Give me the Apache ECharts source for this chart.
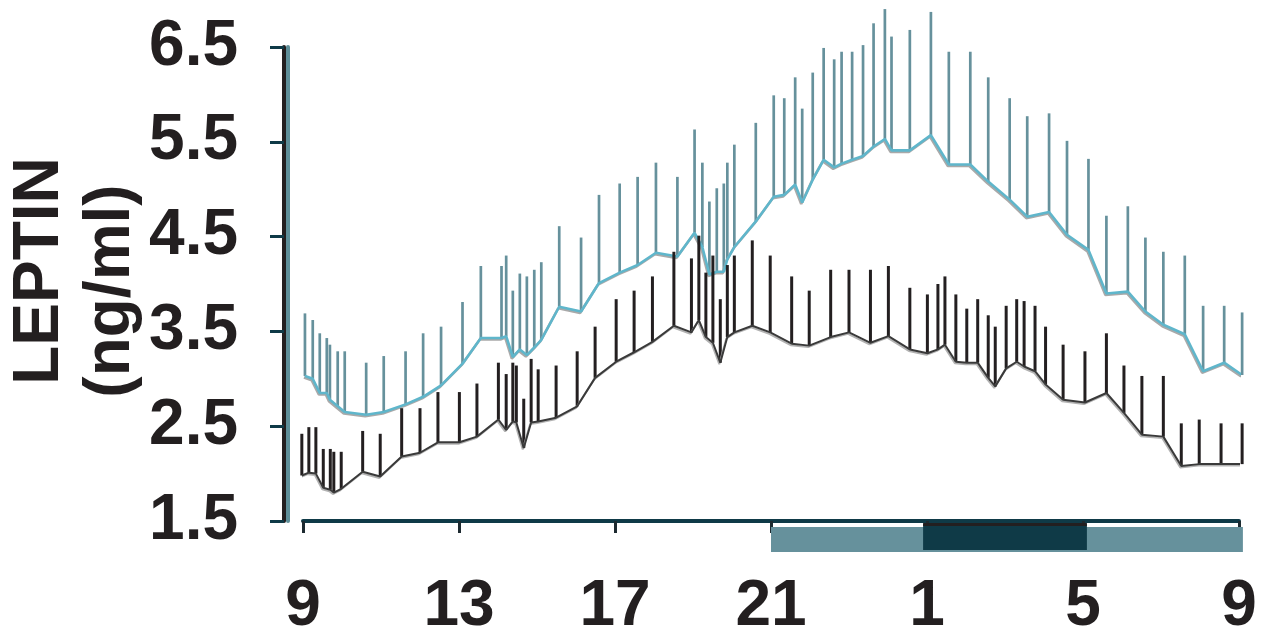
<!DOCTYPE html>
<html><head><meta charset="utf-8">
<script src="https://cdn.jsdelivr.net/npm/echarts@6/dist/echarts.min.js"></script>
<style>html,body{margin:0;padding:0;background:#fff}#c{width:1263px;height:641px}</style>
</head><body><div id="c"></div>
<script>
// ---- data (hours since 0:00 of day 1; values ng/ml) ----
const xTickLabels = ['9', '13', '17', '21', '1', '5', '9'];
const yTickLabels = ['1.5', '2.5', '3.5', '4.5', '5.5', '6.5'];

const tealX = [9.05,9.25,9.43,9.61,9.69,9.89,10.07,10.62,11.07,11.63,12.08,12.54,13.09,13.56,14.09,14.21,14.38,14.56,14.74,14.93,15.11,15.57,16.13,16.59,17.12,17.58,18.05,18.60,19.04,19.24,19.42,19.61,19.79,19.88,20.06,20.61,21.07,21.34,21.62,21.80,22.07,22.35,22.62,22.81,23.08,23.36,23.63,23.92,24.09,24.56,25.10,25.56,26.11,26.57,27.12,27.57,28.13,28.59,29.14,29.60,30.15,30.60,31.06,31.61,32.08,32.62,33.08];
const tealMean = [3.03,3.00,2.85,2.85,2.78,2.71,2.65,2.62,2.65,2.73,2.81,2.93,3.16,3.43,3.43,3.45,3.23,3.31,3.25,3.33,3.41,3.76,3.71,4.01,4.12,4.20,4.33,4.29,4.54,4.39,4.10,4.13,4.13,4.26,4.39,4.66,4.92,4.94,5.05,4.86,5.10,5.31,5.23,5.27,5.31,5.35,5.45,5.53,5.41,5.41,5.57,5.26,5.26,5.08,4.89,4.71,4.76,4.52,4.36,3.90,3.92,3.71,3.57,3.47,3.08,3.17,3.04];
const tealUpper = [3.69,3.62,3.48,3.43,3.36,3.29,3.29,3.17,3.24,3.29,3.48,3.55,3.81,4.19,4.19,4.30,3.93,4.11,4.08,4.15,4.23,4.61,4.49,4.94,5.06,5.13,5.28,5.13,5.63,5.28,4.87,5.01,5.06,5.28,5.47,5.70,5.99,5.96,6.18,5.85,6.23,6.49,6.37,6.45,6.45,6.52,6.75,6.90,6.61,6.68,6.87,6.45,6.45,6.18,5.96,5.77,5.80,5.51,5.32,4.72,4.82,4.49,4.34,4.30,3.77,3.77,3.70];

const blackX = [8.97,9.15,9.33,9.52,9.70,9.79,9.98,10.53,10.98,11.53,12.00,12.46,13.01,13.46,14.01,14.21,14.38,14.47,14.66,14.85,15.03,15.49,16.03,16.49,17.03,17.49,17.96,18.51,18.96,19.15,19.33,19.51,19.70,19.88,20.06,20.52,20.98,21.53,21.98,22.53,23.00,23.55,24.01,24.56,25.01,25.28,25.46,25.74,26.02,26.30,26.57,26.75,27.03,27.30,27.49,27.77,28.04,28.49,29.05,29.60,30.05,30.51,31.06,31.52,31.98,32.54,33.08];
const blackMean = [1.98,2.01,2.00,1.85,1.83,1.80,1.84,2.02,1.97,2.18,2.22,2.33,2.33,2.39,2.57,2.46,2.55,2.54,2.27,2.54,2.55,2.59,2.71,3.01,3.18,3.28,3.39,3.56,3.49,3.62,3.44,3.38,3.17,3.44,3.49,3.56,3.49,3.37,3.35,3.44,3.49,3.38,3.45,3.31,3.27,3.31,3.36,3.18,3.17,3.17,3.01,2.92,3.11,3.18,3.13,3.08,2.94,2.78,2.75,2.85,2.64,2.41,2.39,2.08,2.10,2.10,2.10];
const blackUpper = [2.42,2.49,2.49,2.26,2.26,2.23,2.23,2.45,2.42,2.69,2.69,2.86,2.86,2.95,3.17,3.05,3.17,3.14,2.79,3.21,3.10,3.14,3.29,3.55,3.84,3.93,4.08,4.34,4.27,4.51,4.12,4.30,3.84,4.20,4.30,4.46,4.30,4.08,3.93,4.15,4.15,4.15,4.19,3.96,3.89,4.00,4.08,3.89,3.74,3.84,3.67,3.55,3.77,3.84,3.82,3.77,3.55,3.36,3.29,3.48,3.14,3.03,3.03,2.53,2.57,2.53,2.53];

const lightPeriod = [21.0, 33.1];
const darkPeriod = [24.9, 29.1];

// ---- chart ----
const TXT = '#231f20';
const FONT = '"Liberation Sans", Arial, sans-serif';
const chart = echarts.init(document.getElementById('c'), null, {renderer: 'canvas'});

function pairs(xs, ys) { return xs.map((x, i) => [x, ys[i]]); }
function triples(xs, a, b) { return xs.map((x, i) => [x, a[i], b[i]]); }
function errRender(color, width) {
  return function (params, api) {
    const p0 = api.coord([api.value(0), api.value(1)]);
    const p1 = api.coord([api.value(0), api.value(2)]);
    return {type: 'line', shape: {x1: p0[0], y1: p0[1], x2: p1[0], y2: p1[1]},
            style: {stroke: color, lineWidth: width}};
  };
}

const option = {
  animation: false,
  backgroundColor: '#ffffff',
  grid: {left: 303, right: 24, top: 47, bottom: 120, containLabel: false},
  xAxis: {
    type: 'value', min: 9, max: 33, interval: 4,
    splitLine: {show: false},
    axisLine: {show: true, onZero: false, lineStyle: {color: '#0f3a47', width: 4}},
    axisTick: {show: true, inside: false, length: 12, lineStyle: {color: '#1d2a30', width: 3}},
    axisLabel: {
      margin: 54, color: TXT, fontSize: 64, fontWeight: 'bold', fontFamily: FONT,
      formatter: v => xTickLabels[Math.round((v - 9) / 4)]
    }
  },
  yAxis: {
    type: 'value', min: 1.5, max: 6.5, interval: 1, offset: 19,
    splitLine: {show: false},
    axisLine: {show: true, onZero: false, lineStyle: {color: TXT, width: 4, shadowColor: '#5f8f99', shadowOffsetX: 4, shadowBlur: 0}},
    axisTick: {show: true, inside: false, length: 14, lineStyle: {color: '#0f3a47', width: 3}},
    axisLabel: {
      margin: 46, color: TXT, fontSize: 64, fontWeight: 'bold', fontFamily: FONT,
      formatter: v => yTickLabels[Math.round(v - 1.5)]
    }
  },
  graphic: [
    {type: 'text', x: 40, y: 271, rotation: Math.PI / 2, z: 10,
     style: {text: 'LEPTIN', font: 'bold 64px ' + FONT, fill: TXT,
             align: 'center', verticalAlign: 'middle', textAlign: 'center', textVerticalAlign: 'middle'}},
    {type: 'text', x: 111, y: 291, rotation: Math.PI / 2, z: 10,
     style: {text: '(ng/ml)', font: 'bold 64px ' + FONT, fill: TXT,
             align: 'center', verticalAlign: 'middle', textAlign: 'center', textVerticalAlign: 'middle'}}
  ],
  series: [
    {
      type: 'custom', name: 'periods', clip: false, silent: true, z: 5,
      data: [[lightPeriod[0], lightPeriod[1], 0], [darkPeriod[0], darkPeriod[1], 1]],
      renderItem: function (params, api) {
        const a = api.coord([api.value(0), 1.5]);
        const b = api.coord([api.value(1), 1.5]);
        const dark = api.value(2) === 1;
        if (!dark) {
          return {type: 'rect', shape: {x: a[0], y: a[1] + 6, width: b[0] - a[0], height: 25},
                  style: {fill: '#66919c'}};
        }
        return {type: 'group', children: [
          {type: 'rect', shape: {x: a[0], y: a[1] + 3, width: b[0] - a[0], height: 26}, style: {fill: '#0f3a47'}},
          {type: 'rect', shape: {x: a[0], y: a[1] + 2, width: b[0] - a[0], height: 3}, style: {fill: '#231f20'}}
        ]};
      }
    },
    {
      type: 'custom', name: 'teal SEM', clip: false, z: 2,
      data: triples(tealX, tealMean, tealUpper),
      renderItem: errRender('#66919c', 2.7)
    },
    {
      type: 'line', name: 'teal', clip: false, z: 3, showSymbol: false, symbol: 'none',
      data: pairs(tealX, tealMean),
      lineStyle: {color: '#5fb6cb', width: 2.6, shadowColor: 'rgba(160,160,160,0.9)', shadowOffsetY: 1.5, shadowOffsetX: -1, shadowBlur: 0}
    },
    {
      type: 'custom', name: 'black SEM', clip: false, z: 4,
      data: triples(blackX, blackMean, blackUpper),
      renderItem: errRender('#231f20', 3)
    },
    {
      type: 'line', name: 'black', clip: false, z: 4, showSymbol: false, symbol: 'none',
      data: pairs(blackX, blackMean),
      lineStyle: {color: '#3a3a3a', width: 2.0, shadowColor: 'rgba(170,170,170,0.9)', shadowOffsetY: 1.5, shadowOffsetX: -1, shadowBlur: 0}
    }
  ]
};
chart.setOption(option);
</script></body></html>
